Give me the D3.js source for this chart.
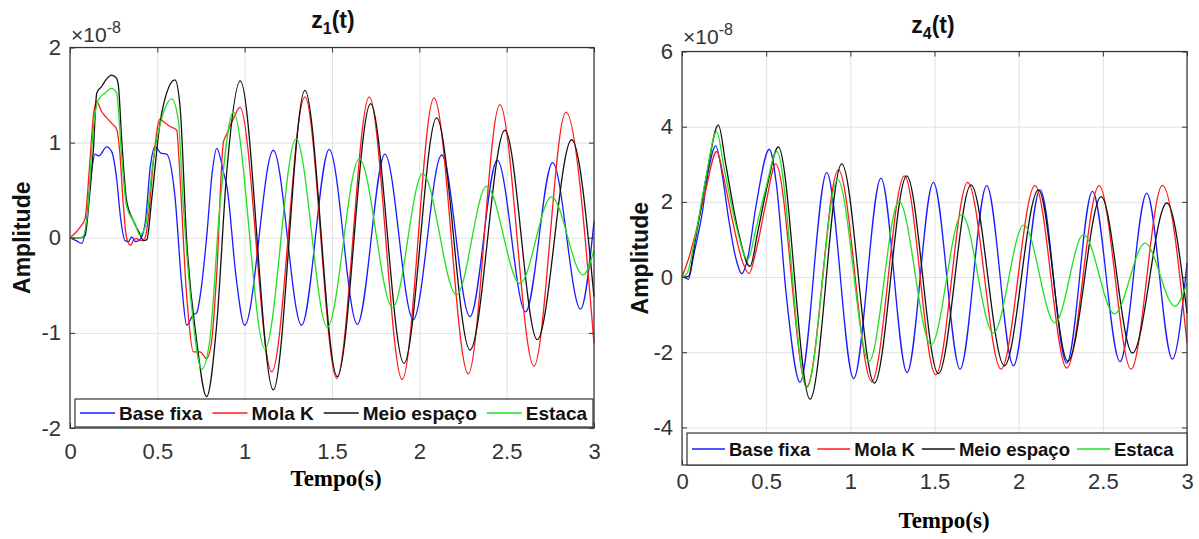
<!DOCTYPE html>
<html>
<head>
<meta charset="utf-8">
<script src="https://cdn.jsdelivr.net/npm/d3@7"></script>
<style>
  body { margin: 0; background: #fff; }
  svg { display: block; }
</style>
</head>
<body>
<svg id="chart" width="1199" height="539"></svg>
<script>
// ---- data (amplitude in units of 1e-8, time in s) ----
const seriesNames = ["Base fixa", "Mola K", "Meio espaço", "Estaca"];
const seriesColors = ["#1a1aff", "#ff1a1a", "#111111", "#1fe01f"];

const xTicks = [0, 0.5, 1, 1.5, 2, 2.5, 3];
const xTickLabels = ["0", "0.5", "1", "1.5", "2", "2.5", "3"];
const yTicksZ1 = [-2, -1, 0, 1, 2];
const yTickLabelsZ1 = ["-2", "-1", "0", "1", "2"];
const yTicksZ4 = [-4, -2, 0, 2, 4, 6];
const yTickLabelsZ4 = ["-4", "-2", "0", "2", "4", "6"];

// z1(t)
const z1Base = [[0,0],[0.035,-0.03],[0.067,-0.06],[0.09,0.1],[0.12,0.65],[0.143,0.88],[0.165,0.86],[0.21,0.955],[0.24,0.9],[0.267,0.62],[0.29,0.2],[0.315,-0.03],[0.335,-0.04],[0.353,0.01],[0.375,-0.04],[0.4,-0.02],[0.43,0.15],[0.46,0.75],[0.487,0.96],[0.52,0.89],[0.553,0.88],[0.6,0.45],[0.64,-0.5],[0.668,-0.92],[0.706,-0.81],[0.725,-0.79],[0.75,-0.55],[0.782,0.0],[0.815,0.7],[0.84,0.94],[0.88,0.68],[0.9,0.52],[0.95,-0.4],[1.0,-0.92],[1.164,0.92],[1.326,-0.92],[1.484,0.93],[1.645,-0.91],[1.803,0.88],[1.965,-0.86],[2.128,0.87],[2.29,-0.83],[2.446,0.815],[2.608,-0.78],[2.763,0.79],[2.923,-0.75],[3.0,0.17]];
const z1Mola = [[0,0],[0.03,0.05],[0.057,0.11],[0.086,0.2],[0.11,0.7],[0.135,1.3],[0.153,1.43],[0.18,1.33],[0.21,1.26],[0.24,1.2],[0.267,1.14],[0.285,0.9],[0.305,0.35],[0.324,0.0],[0.347,-0.08],[0.365,-0.02],[0.38,-0.01],[0.41,-0.03],[0.43,0.0],[0.448,0.2],[0.48,0.85],[0.515,1.25],[0.535,1.22],[0.573,1.17],[0.611,1.13],[0.625,0.8],[0.64,0.3],[0.66,-0.4],[0.677,-0.81],[0.706,-1.2],[0.744,-1.2],[0.782,-1.27],[0.81,-1.1],[0.84,-0.38],[0.878,1.0],[0.9,1.1],[0.935,1.25],[0.973,1.37],[1.155,-1.41],[1.345,1.48],[1.527,-1.48],[1.713,1.48],[1.902,-1.49],[2.084,1.47],[2.28,-1.43],[2.461,1.40],[2.656,-1.35],[2.839,1.32],[3.0,-1.11]];
const z1Meio = [[0,0],[0.03,0],[0.06,0.0],[0.086,0.02],[0.11,0.4],[0.134,0.93],[0.153,1.52],[0.181,1.59],[0.21,1.67],[0.238,1.71],[0.265,1.68],[0.277,1.6],[0.296,1.03],[0.324,0.39],[0.362,0.18],[0.4,0.04],[0.42,-0.03],[0.44,-0.02],[0.467,0.39],[0.515,1.2],[0.553,1.52],[0.601,1.66],[0.63,1.38],[0.668,-0.03],[0.725,-1.08],[0.782,-1.67],[0.84,-0.91],[0.897,0.68],[0.975,1.65],[1.164,-1.6],[1.345,1.55],[1.53,-1.46],[1.721,1.41],[1.912,-1.32],[2.099,1.26],[2.29,-1.18],[2.49,1.13],[2.675,-1.07],[2.872,1.03],[3.0,-0.62]];
const z1Estaca = [[0,0],[0.04,0],[0.07,0.0],[0.1,0.25],[0.134,1.16],[0.162,1.45],[0.2,1.52],[0.238,1.57],[0.267,1.52],[0.296,0.85],[0.324,0.33],[0.372,0.15],[0.4,0.03],[0.43,0.11],[0.477,0.82],[0.534,1.31],[0.582,1.46],[0.62,1.24],[0.649,0.33],[0.696,-0.72],[0.754,-1.38],[0.8,-1.08],[0.858,0.33],[0.935,1.32],[1.116,-1.17],[1.294,1.04],[1.473,-0.94],[1.656,0.83],[1.847,-0.73],[2.019,0.675],[2.213,-0.6],[2.385,0.54],[2.576,-0.48],[2.757,0.43],[2.938,-0.39],[3.0,-0.13]];

// z4(t)
const z4Base = [[0,0],[0.02,-0.02],[0.038,-0.06],[0.07,0.6],[0.117,1.62],[0.16,2.9],[0.2,3.49],[0.24,2.7],[0.275,1.61],[0.32,0.5],[0.355,0.09],[0.39,0.5],[0.44,1.9],[0.519,3.4],[0.56,2.5],[0.62,-0.5],[0.701,-2.8],[0.86,2.78],[1.02,-2.7],[1.182,2.63],[1.337,-2.54],[1.493,2.52],[1.652,-2.45],[1.81,2.43],[1.969,-2.36],[2.127,2.32],[2.286,-2.29],[2.438,2.28],[2.602,-2.25],[2.761,2.23],[2.913,-2.18],[3.0,0.37]];
const z4Mola = [[0,0],[0.04,0.5],[0.077,1.1],[0.14,2.3],[0.206,3.34],[0.25,2.6],[0.3,1.5],[0.36,0.4],[0.398,0.09],[0.44,0.7],[0.5,2.0],[0.557,3.01],[0.741,-2.91],[0.929,2.85],[1.127,-2.78],[1.321,2.69],[1.507,-2.6],[1.697,2.52],[1.895,-2.45],[2.097,2.43],[2.286,-2.42],[2.478,2.43],[2.668,-2.45],[2.854,2.44],[3.0,-1.76]];
const z4Meio = [[0,0],[0.038,0.02],[0.08,1.0],[0.15,2.8],[0.216,4.05],[0.26,3.0],[0.33,1.3],[0.404,0.28],[0.45,1.2],[0.51,2.5],[0.572,3.46],[0.761,-3.25],[0.949,3.01],[1.143,-2.82],[1.335,2.69],[1.523,-2.57],[1.717,2.45],[1.915,-2.36],[2.117,2.32],[2.292,-2.24],[2.49,2.14],[2.676,-2.02],[2.88,1.97],[3.0,-0.96]];
const z4Estaca = [[0,0],[0.03,0.1],[0.08,1.1],[0.14,2.6],[0.206,3.87],[0.25,2.9],[0.32,1.4],[0.39,0.46],[0.44,1.3],[0.5,2.4],[0.563,3.34],[0.741,-2.95],[0.925,2.59],[1.111,-2.24],[1.289,2.01],[1.48,-1.8],[1.662,1.66],[1.85,-1.49],[2.03,1.38],[2.216,-1.22],[2.385,1.13],[2.569,-0.98],[2.751,0.9],[2.929,-0.78],[3.0,-0.16]];

// ---- drawing ----
const svg = d3.select("#chart");
const sans = "'Liberation Sans', Arial, Helvetica, sans-serif";
const serif = "'Liberation Serif', 'Times New Roman', serif";

function drawPanel(p) {
    var x = d3.scaleLinear().domain([0, 3]).range([p.left, p.right]);
    var y = d3.scaleLinear().domain(p.yDomain).range([p.bottom, p.top]);
    var h = p.bottom - p.top,
        w = p.right - p.left;

    var g = svg.append("g");

    // grid
    var gx = g.append("g")
        .attr("transform", "translate(0," + p.bottom + ")")
        .call(d3.axisBottom(x).tickValues(xTicks).tickSize(-h).tickFormat(""));
    var gy = g.append("g")
        .attr("transform", "translate(" + p.left + ",0)")
        .call(d3.axisLeft(y).tickValues(p.yTicks).tickSize(-w).tickFormat(""));
    [gx, gy].forEach(function(a) {
        a.select(".domain").remove();
        a.selectAll("line").attr("stroke", "#e2e2e2").attr("stroke-width", 1);
    });

    // series
    var line = d3.line()
        .curve(d3.curveMonotoneX)
        .x(d => x(d[0]))
        .y(d => y(d[1]));

    p.series.forEach(function(s, i) {
        g.append("path")
            .datum(s)
            .attr("fill", "none")
            .attr("stroke", seriesColors[i])
            .attr("stroke-width", 1.3)
            .attr("stroke-linejoin", "round")
            .attr("d", line);
    });

    // tick labels
    var lx = g.append("g")
        .attr("transform", "translate(0," + p.bottom + ")")
        .call(d3.axisBottom(x).tickValues(xTicks).tickSize(0).tickPadding(p.xPad)
            .tickFormat((d, i) => xTickLabels[i]));
    var ly = g.append("g")
        .attr("transform", "translate(" + p.left + ",0)")
        .call(d3.axisLeft(y).tickValues(p.yTicks).tickSize(0).tickPadding(9)
            .tickFormat((d, i) => p.yLabels[i]));
    [lx, ly].forEach(function(a) {
        a.select(".domain").remove();
        a.selectAll("text")
            .attr("fill", "#333")
            .style("font-family", sans)
            .style("font-size", "22px");
    });

    // inner ticks, all four sides
    [[d3.axisBottom(x).tickValues(xTicks), "translate(0," + p.bottom + ")"],
     [d3.axisTop(x).tickValues(xTicks), "translate(0," + p.top + ")"],
     [d3.axisLeft(y).tickValues(p.yTicks), "translate(" + p.left + ",0)"],
     [d3.axisRight(y).tickValues(p.yTicks), "translate(" + p.right + ",0)"]].forEach(function(d) {
        var a = g.append("g")
            .attr("transform", d[1])
            .call(d[0].tickSize(-5).tickFormat(""));
        a.select(".domain").remove();
        a.selectAll("line").attr("stroke", "#333");
    });

    // box
    g.append("rect")
        .attr("x", p.left).attr("y", p.top)
        .attr("width", w).attr("height", h)
        .attr("fill", "none")
        .attr("stroke", "#333")
        .attr("stroke-width", 1.2);

    // exponent
    var ex = g.append("text")
        .attr("x", p.left + 1)
        .attr("y", p.top - p.expOff)
        .attr("fill", "#333")
        .style("font-family", sans)
        .style("font-size", "21px");
    ex.append("tspan").text("\u00d710");
    ex.append("tspan").attr("dy", -9).style("font-size", "16px").text("-8");

    // title
    var t = g.append("text")
        .attr("x", p.titleX)
        .attr("y", p.titleY)
        .attr("text-anchor", "middle")
        .attr("fill", "#111")
        .style("font-family", sans)
        .style("font-weight", "bold")
        .style("font-size", "23px");
    t.append("tspan").text("z");
    t.append("tspan").attr("dy", 6).style("font-size", "16px").text(p.sub);
    t.append("tspan").attr("dy", -6).text("(t)");

    // axis titles
    g.append("text")
        .attr("transform", "translate(" + p.ylabX + "," + (p.top + h / 2) + ") rotate(-90)")
        .attr("text-anchor", "middle")
        .attr("dy", "0.35em")
        .attr("fill", "#111")
        .style("font-family", sans)
        .style("font-weight", "bold")
        .style("font-size", "23px")
        .text("Amplitude");

    g.append("text")
        .attr("x", p.xlabX)
        .attr("y", p.xlabY)
        .attr("text-anchor", "middle")
        .attr("fill", "#000")
        .style("font-family", serif)
        .style("font-weight", "bold")
        .style("font-size", "23px")
        .text("Tempo(s)");

    // legend
    var lg = g.append("g");
    lg.append("rect")
        .attr("x", p.leg[0]).attr("y", p.leg[1])
        .attr("width", p.leg[2] - p.leg[0]).attr("height", p.leg[3] - p.leg[1])
        .attr("fill", "#fff")
        .attr("stroke", "#333")
        .attr("stroke-width", 1.2);
    var cy = (p.leg[1] + p.leg[3]) / 2;
    var cx = p.leg[0] + 5;
    seriesNames.forEach(function(name, i) {
        lg.append("line")
            .attr("x1", cx).attr("x2", cx + p.legLine)
            .attr("y1", cy).attr("y2", cy)
            .attr("stroke", seriesColors[i])
            .attr("stroke-width", 1.3);
        var tx = lg.append("text")
            .attr("x", cx + p.legLine + 4)
            .attr("y", cy)
            .attr("dy", "0.36em")
            .attr("fill", "#111")
            .style("font-family", sans)
            .style("font-weight", "bold")
            .style("font-size", p.legFont + "px")
            .text(name);
        cx += p.legLine + 4 + tx.node().getComputedTextLength() + p.legGap;
    });
}

drawPanel({
    left: 70, right: 594, top: 47.5, bottom: 428,
    yDomain: [-2, 2], yTicks: yTicksZ1, yLabels: yTickLabelsZ1,
    series: [z1Base, z1Mola, z1Meio, z1Estaca],
    xPad: 15, expOff: 6,
    sub: "1", titleX: 333, titleY: 28,
    ylabX: 22, xlabX: 336, xlabY: 486,
    leg: [75, 399, 593, 427], legFont: 19, legLine: 35, legGap: 10
});

drawPanel({
    left: 682, right: 1187, top: 51.5, bottom: 465,
    yDomain: [-5, 6], yTicks: yTicksZ4, yLabels: yTickLabelsZ4,
    xPad: 8, expOff: 8,
    series: [z4Base, z4Mola, z4Meio, z4Estaca],
    sub: "4", titleX: 933, titleY: 33,
    ylabX: 640, xlabX: 944, xlabY: 528,
    leg: [687, 433, 1187, 465], legFont: 18.5, legLine: 33, legGap: 7
});
</script>
</body>
</html>
